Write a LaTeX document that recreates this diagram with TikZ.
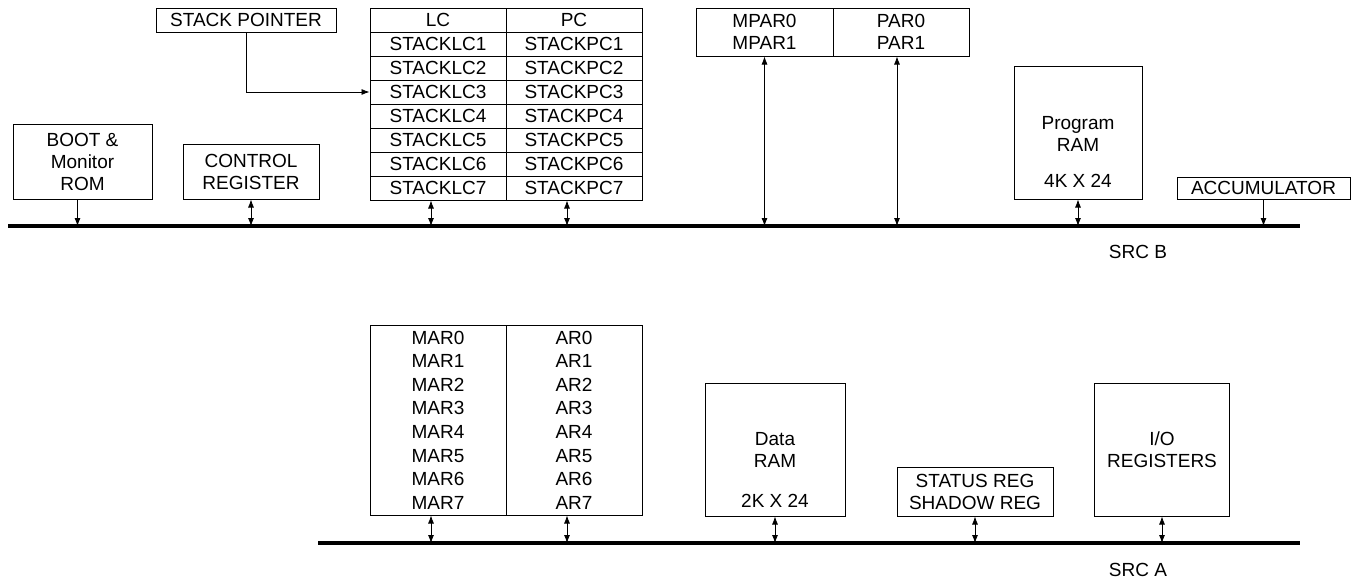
\documentclass[tikz,border=0pt]{standalone}
\usepackage{fontspec}
\setmainfont{Liberation Sans}
\usetikzlibrary{arrows.meta}
\tikzset{
  txt/.style={inner sep=0pt,align=center,font=\fontsize{19}{22}\selectfont},
  blk/.style={txt,draw,line width=1pt},
  cell/.style={blk,minimum width=136pt,minimum height=24pt},
  bus/.style={line width=4pt},
  link/.style={line width=0.8pt,-{Latex[length=8pt,width=6pt]}},
  dlink/.style={line width=0.8pt,{Latex[length=8pt,width=6pt]}-{Latex[length=8pt,width=6pt]}},
}
\begin{document}
\begin{tikzpicture}[x=1pt,y=-1pt]
  \useasboundingbox (0,0) rectangle (1354,579);
  % buses
  \coordinate (busB) at (8,226);
  \coordinate (busBend) at (1300,226);
  \coordinate (busA) at (318,543);
  \coordinate (busAend) at (1300,543);
  \draw[bus] (busB) -- (busBend);
  \draw[bus] (busA) -- (busAend);
  \node[txt] (srcB) at (1138,252) {SRC B};
  \node[txt] (srcA) at (1138,570) {SRC A};

  % SRC B side
  \node[blk,minimum width=139pt,minimum height=75pt] (boot) at (82.5,161.5) {BOOT \&\\Monitor\\ROM};
  \node[blk,minimum width=136pt,minimum height=55pt] (ctrl) at (251,171.5) {CONTROL\\REGISTER};
  \node[blk,minimum width=180pt,minimum height=24pt] (sp) at (246,20) {STACK POINTER};
  \foreach \i in {0,...,7} {
    \node[cell] (lc\i) at (438,20+24*\i) {\ifnum\i=0 LC\else STACKLC\i\fi};
    \node[cell] (pc\i) at (574,20+24*\i) {\ifnum\i=0 PC\else STACKPC\i\fi};
  }
  \node[blk,minimum width=137pt,minimum height=48pt] (mpar) at (764.5,32) {MPAR0\\MPAR1};
  \node[blk,minimum width=136pt,minimum height=48pt] (par) at (901,32) {PAR0\\PAR1};
  \node[blk,minimum width=128pt,minimum height=133pt] (prog) at (1078,132.5) {};
  \node[txt] (progname) at (1078,134) {Program\\RAM};
  \node[txt] (progsize) at (1078,181) {4K X 24};
  \node[blk,minimum width=173pt,minimum height=22pt] (acc) at (1263.5,188) {ACCUMULATOR};

  % SRC A side
  \node[blk,minimum width=136pt,minimum height=190pt,font=\fontsize{19}{23.6}\selectfont] (mar) at (438,420)
    {MAR0\\MAR1\\MAR2\\MAR3\\MAR4\\MAR5\\MAR6\\MAR7};
  \node[blk,minimum width=136pt,minimum height=190pt,font=\fontsize{19}{23.6}\selectfont] (ar) at (574,420)
    {AR0\\AR1\\AR2\\AR3\\AR4\\AR5\\AR6\\AR7};
  \node[blk,minimum width=140pt,minimum height=133pt] (data) at (775,449.5) {};
  \node[txt] (dataname) at (775,450) {Data\\RAM};
  \node[txt] (datasize) at (775,501) {2K X 24};
  \node[blk,minimum width=156pt,minimum height=49pt] (status) at (975,491.5) {STATUS REG\\SHADOW REG};
  \node[blk,minimum width=135pt,minimum height=133pt] (io) at (1162,449.5) {I/O\\REGISTERS};

  % connectors to SRC B
  \draw[link] ([xshift=-5pt]boot.south) -- ([xshift=-5pt]boot.south |- busB);
  \draw[dlink] (ctrl.south) -- (ctrl.south |- busB);
  \draw[dlink] ([xshift=-7pt]lc7.south) -- ([xshift=-7pt]lc7.south |- busB);
  \draw[dlink] ([xshift=-7pt]pc7.south) -- ([xshift=-7pt]pc7.south |- busB);
  \draw[link] (sp.south) |- (lc3.west);
  \draw[dlink] (mpar.south) -- (mpar.south |- busB);
  \draw[dlink] ([xshift=-4pt]par.south) -- ([xshift=-4pt]par.south |- busB);
  \draw[dlink] (prog.south) -- (prog.south |- busB);
  \draw[link] (acc.south) -- (acc.south |- busB);

  % connectors to SRC A
  \draw[dlink] ([xshift=-7pt]mar.south) -- ([xshift=-7pt]mar.south |- busA);
  \draw[dlink] ([xshift=-7pt]ar.south) -- ([xshift=-7pt]ar.south |- busA);
  \draw[dlink] (data.south) -- (data.south |- busA);
  \draw[dlink] (status.south) -- (status.south |- busA);
  \draw[dlink] (io.south) -- (io.south |- busA);
\end{tikzpicture}
\end{document}
